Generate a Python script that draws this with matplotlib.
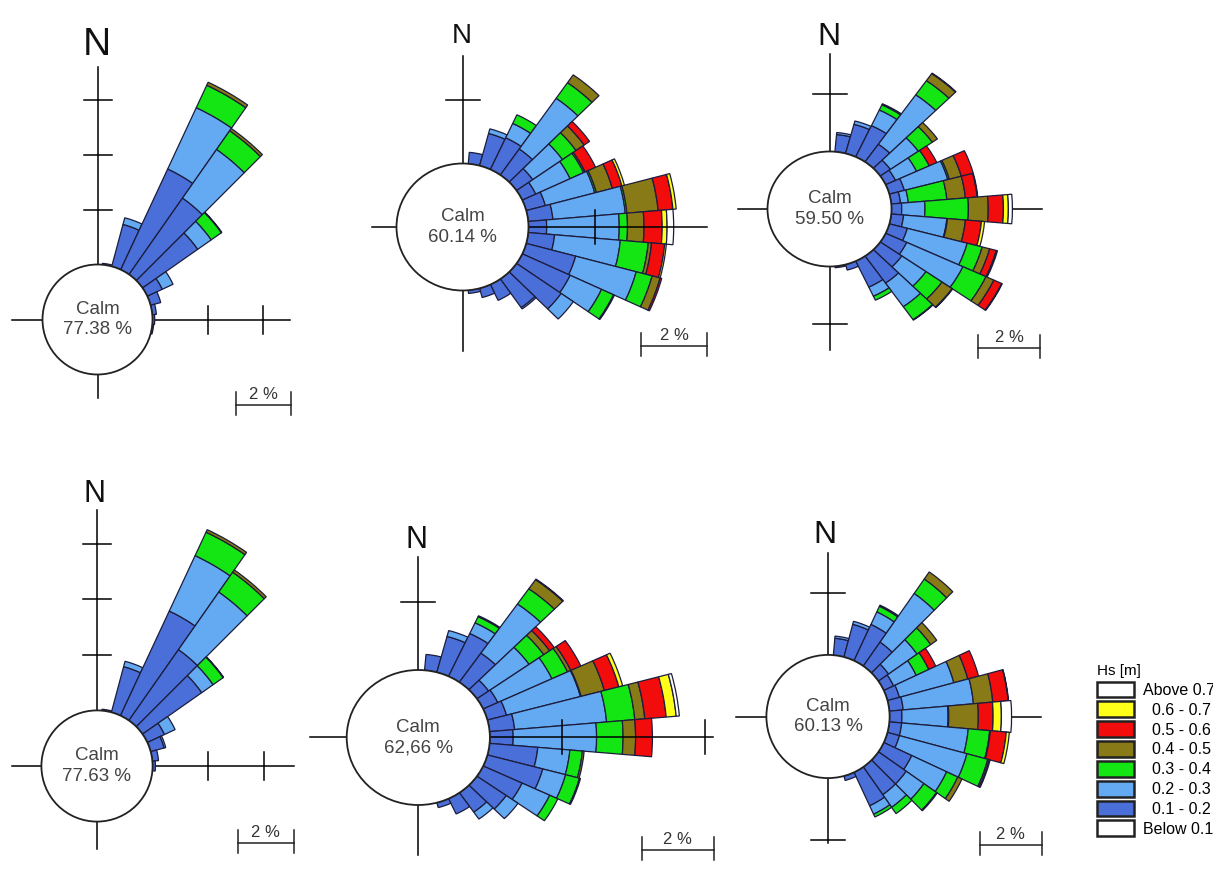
import numpy as np
import matplotlib.pyplot as plt
from matplotlib.patches import Wedge, Ellipse, Patch

plt.rcParams['font.family'] = ['Liberation Sans', 'DejaVu Sans']

# Hs classes (legend order bottom -> top) and colours
classes = ['Below 0.1', '0.1 - 0.2', '0.2 - 0.3', '0.3 - 0.4', '0.4 - 0.5',
           '0.5 - 0.6', '0.6 - 0.7', 'Above 0.7']
colors = ['#ffffff', '#4a6fd8', '#64aaf2', '#14e614', '#887a16',
          '#f20c0c', '#ffff1a', '#ffffff']

# direction sectors (deg from north, 10 deg wide)
directions = [10, 20, 30, 40, 50, 60, 70, 80, 90, 100, 110, 120, 130, 140, 150, 160, 170]

# frequency (%) per sector, columns: 0.1-0.2, 0.2-0.3, 0.3-0.4, 0.4-0.5, 0.5-0.6, 0.6-0.7, >0.7
rose_1 = [[0.05], [1.58, 0.25], [4.04, 2.46, 0.9, 0.12], [3.39, 2.16, 0.83, 0.1],
          [2.45, 0.6, 0.45, 0.02], [0.6, 0.43], [0.38], [0.15], [0.08], [0.05]]
rose_2 = [[0.36], [1.05, 0.15], [1.1, 0.5, 0.3], [1.0, 1.95, 0.6, 0.3],
          [0.6, 1.1, 0.5, 0.3, 0.2], [0.45, 1.15, 0.45, 0.05, 0.35],
          [0.6, 1.55, 0.05, 0.5, 0.3, 0.08], [0.75, 2.2, 0.05, 0.95, 0.45, 0.1],
          [0.55, 2.2, 0.25, 0.5, 0.55, 0.15, 0.2], [0.8, 2.0, 0.85, 0.1, 0.4, 0.05],
          [1.55, 1.9, 0.5, 0.25, 0.05], [1.6, 1.05, 0.4, 0.03], [1.65, 0.45],
          [1.1, 0.05], [0.55], [0.3], [0.1]]
rose_3 = [[0.6, 0.07], [1.05, 0.12], [1.2, 0.6, 0.2, 0.04], [0.75, 2.1, 0.6, 0.3, 0.02],
          [0.4, 1.1, 0.55, 0.2], [0.35, 0.75, 0.45, 0, 0.27],
          [0.5, 1.45, 0.05, 0.4, 0.4], [0.3, 0.25, 1.25, 0.6, 0.38, 0.02],
          [0.33, 0.75, 1.4, 0.64, 0.49, 0.16, 0.13], [0.4, 1.4, 0.02, 0.58, 0.52, 0.1],
          [0.6, 2.0, 0.5, 0.25, 0.22, 0.04], [0.75, 2.0, 0.82, 0.28, 0.28, 0.02],
          [0.85, 0.95, 0.63, 0.4, 0.02], [1.15, 1.0, 0.55, 0.02], [1.0, 0.35, 0.15],
          [0.2], [0.05]]
rose_4 = [[0.05], [1.7, 0.2], [4.15, 2.2, 0.93, 0.1], [3.11, 2.53, 0.87, 0.1],
          [2.6, 0.5, 0.44, 0.02], [0.68, 0.42], [0.5, 0.06], [0.22], [0.1]]
rose_5 = [[0.47], [1.1, 0.18], [1.4, 0.35, 0.2, 0.03], [1.05, 1.78, 0.55, 0.33, 0.02],
          [0.4, 1.38, 0.5, 0.2, 0.16], [0.45, 1.67, 0.48, 0.1, 0.31],
          [0.55, 2.14, 0.02, 0.67, 0.42, 0.11], [0.7, 2.58, 0.79, 0.28, 0.6, 0.28, 0.09],
          [0.65, 2.33, 0.74, 0.35, 0.47], [1.35, 0.9, 0.35, 0.05],
          [1.6, 0.66, 0.4, 0.03], [1.2, 0.85, 0.25], [1.0, 0.4], [0.7, 0.25],
          [0.5], [0.15]]
rose_6 = [[0.55, 0.07], [1.1, 0.1], [1.3, 0.45, 0.2, 0.04], [0.95, 1.93, 0.57, 0.28],
          [0.4, 1.13, 0.54, 0.24], [0.35, 0.81, 0.45, 0, 0.25],
          [0.4, 1.83, 0, 0.47, 0.36], [0.45, 2.29, 0, 0.63, 0.5, 0.01],
          [0.4, 1.5, 0.02, 0.96, 0.48, 0.27, 0.33], [0.4, 2.17, 0.7, 0.02, 0.52, 0.1],
          [0.4, 2.27, 0.7, 0.05, 0.03], [1.0, 1.25, 0.4, 0.15], [1.1, 0.7, 0.5, 0.03],
          [1.1, 0.5, 0.25], [1.2, 0.3, 0.1], [0.15]]

roses = [rose_1, rose_2, rose_3, rose_4, rose_5, rose_6]
calm_labels = ['77.38', '60.14', '59.50', '77.63', '62,66', '60.13']

CALM_R = 2.0  # calm circle radius, in % of the scale

# layout: centre px, px per % (x, y), arm lengths N/E/S/W, ticks, N label, scale bar
layout = [
    dict(c=(97.5, 319.5), s=(27.5, 27.5), arms=(9.2, 7.0, 2.85, 3.1), tn=[4, 6, 8], te=[4, 6], ts=[],
         tl=14, n=(97, 55, 28), bar=(236, 405), top=False),
    dict(c=(462.5, 227), s=(33, 31.75), arms=(5.4, 7.4, 3.9, 2.75), tn=[4], te=[4], ts=[],
         tl=17, n=(462, 43, 20), bar=(641, 346), top=True),
    dict(c=(829.5, 209), s=(31, 28.75), arms=(5.4, 6.84, 4.9, 2.94), tn=[4], te=[], ts=[4],
         tl=17, n=(829, 45, 23), bar=(978, 348), top=False),
    dict(c=(97, 766), s=(27.8, 27.8), arms=(9.2, 7.1, 3.0, 3.05), tn=[4, 6, 8], te=[4, 6], ts=[],
         tl=14, n=(95, 502, 22), bar=(238, 843), top=False),
    dict(c=(418.3, 737.5), s=(35.8, 33.75), arms=(5.36, 8.24, 3.48, 3.02), tn=[4], te=[4, 8], ts=[],
         tl=17, n=(416, 548, 22), bar=(642, 850), top=True),
    dict(c=(828, 716.5), s=(30.8, 30.8), arms=(5.3, 6.9, 4.1, 3.0), tn=[4], te=[], ts=[4],
         tl=17, n=(825, 543, 23), bar=(980, 845), top=False),
]

W, H = 1213, 884
fig = plt.figure(figsize=(W / 100, H / 100), dpi=100)
fig.patch.set_facecolor('white')

EDGE = '#1c1c3c'
half = 10

for table, calm, lay in zip(roses, calm_labels, layout):
    cx, cy = lay['c']
    sx, sy = lay['s']
    ax = fig.add_axes([(cx - half * sx) / W, 1 - (cy + half * sy) / H,
                       2 * half * sx / W, 2 * half * sy / H])
    ax.set_xlim(-half, half)
    ax.set_ylim(-half, half)
    ax.axis('off')
    ax.patch.set_alpha(0)

    # stacked sector bars
    for d, row in zip(directions, table):
        ang = 90 - d
        r0 = CALM_R
        for k, v in enumerate(row):
            if v <= 0:
                continue
            ax.add_patch(Wedge((0, 0), r0 + v, ang - 5, ang + 5, width=v,
                               facecolor=colors[k + 1], edgecolor=EDGE, lw=0.9, zorder=2))
            r0 += v

    # compass arms and ticks
    lz = 3 if lay['top'] else 1
    an, ae, as_, aw = lay['arms']
    ax.plot([0, 0], [-as_, an], color='k', lw=1.1, zorder=lz)
    ax.plot([-aw, ae], [0, 0], color='k', lw=1.1, zorder=lz)
    tx, ty = lay['tl'] / sx, lay['tl'] / sy
    for r in lay['tn']:
        ax.plot([-tx, tx], [r, r], color='k', lw=1.1, zorder=lz)
    for r in lay['ts']:
        ax.plot([-tx, tx], [-r, -r], color='k', lw=1.1, zorder=lz)
    for r in lay['te']:
        ax.plot([r, r], [-ty, ty], color='k', lw=1.1, zorder=lz)

    # calm circle
    ax.add_patch(Ellipse((0, 0), 2 * CALM_R, 2 * CALM_R, facecolor='white',
                         edgecolor='#222222', lw=1.3, zorder=4))
    ax.text(0, 0, f'Calm\n{calm} %', ha='center', va='center', fontsize=13.5,
            color='#444444', linespacing=1.25, zorder=5)

    # north label
    nx, nb, ns = lay['n']
    ax.text((nx - cx) / sx, (cy - nb) / sy, 'N', ha='center', va='baseline',
            fontsize=ns, color='#111111', zorder=5)

    # 2 % scale bar
    bx, by = lay['bar']
    x0, y0 = (bx - cx) / sx, (cy - by) / sy
    ax.plot([x0, x0 + 2], [y0, y0], color='#222222', lw=1.1)
    for xe in (x0, x0 + 2):
        ax.plot([xe, xe], [y0 - 10 / sy, y0 + 13 / sy], color='#222222', lw=1.1)
    ax.text(x0 + 1, y0 + 3 / sy, '2 %', ha='center', va='bottom', fontsize=12, color='#333333')

# legend
handles = [Patch(facecolor=colors[i], edgecolor='#222222', linewidth=1.8)
           for i in range(len(classes) - 1, -1, -1)]
labels = [classes[i] if classes[i].startswith(('A', 'B')) else '  ' + classes[i]
          for i in range(len(classes) - 1, -1, -1)]
fig.legend(handles, labels, title='Hs [m]', loc='upper left',
           bbox_to_anchor=(1097 / W, 1 - 664 / H), borderaxespad=0, borderpad=0,
           frameon=False, fontsize=11.5, title_fontsize=11, alignment='left',
           handlelength=2.3, handleheight=1.15, labelspacing=0.22, handletextpad=0.55)

fig.savefig('out.png', dpi=100, facecolor='white')
